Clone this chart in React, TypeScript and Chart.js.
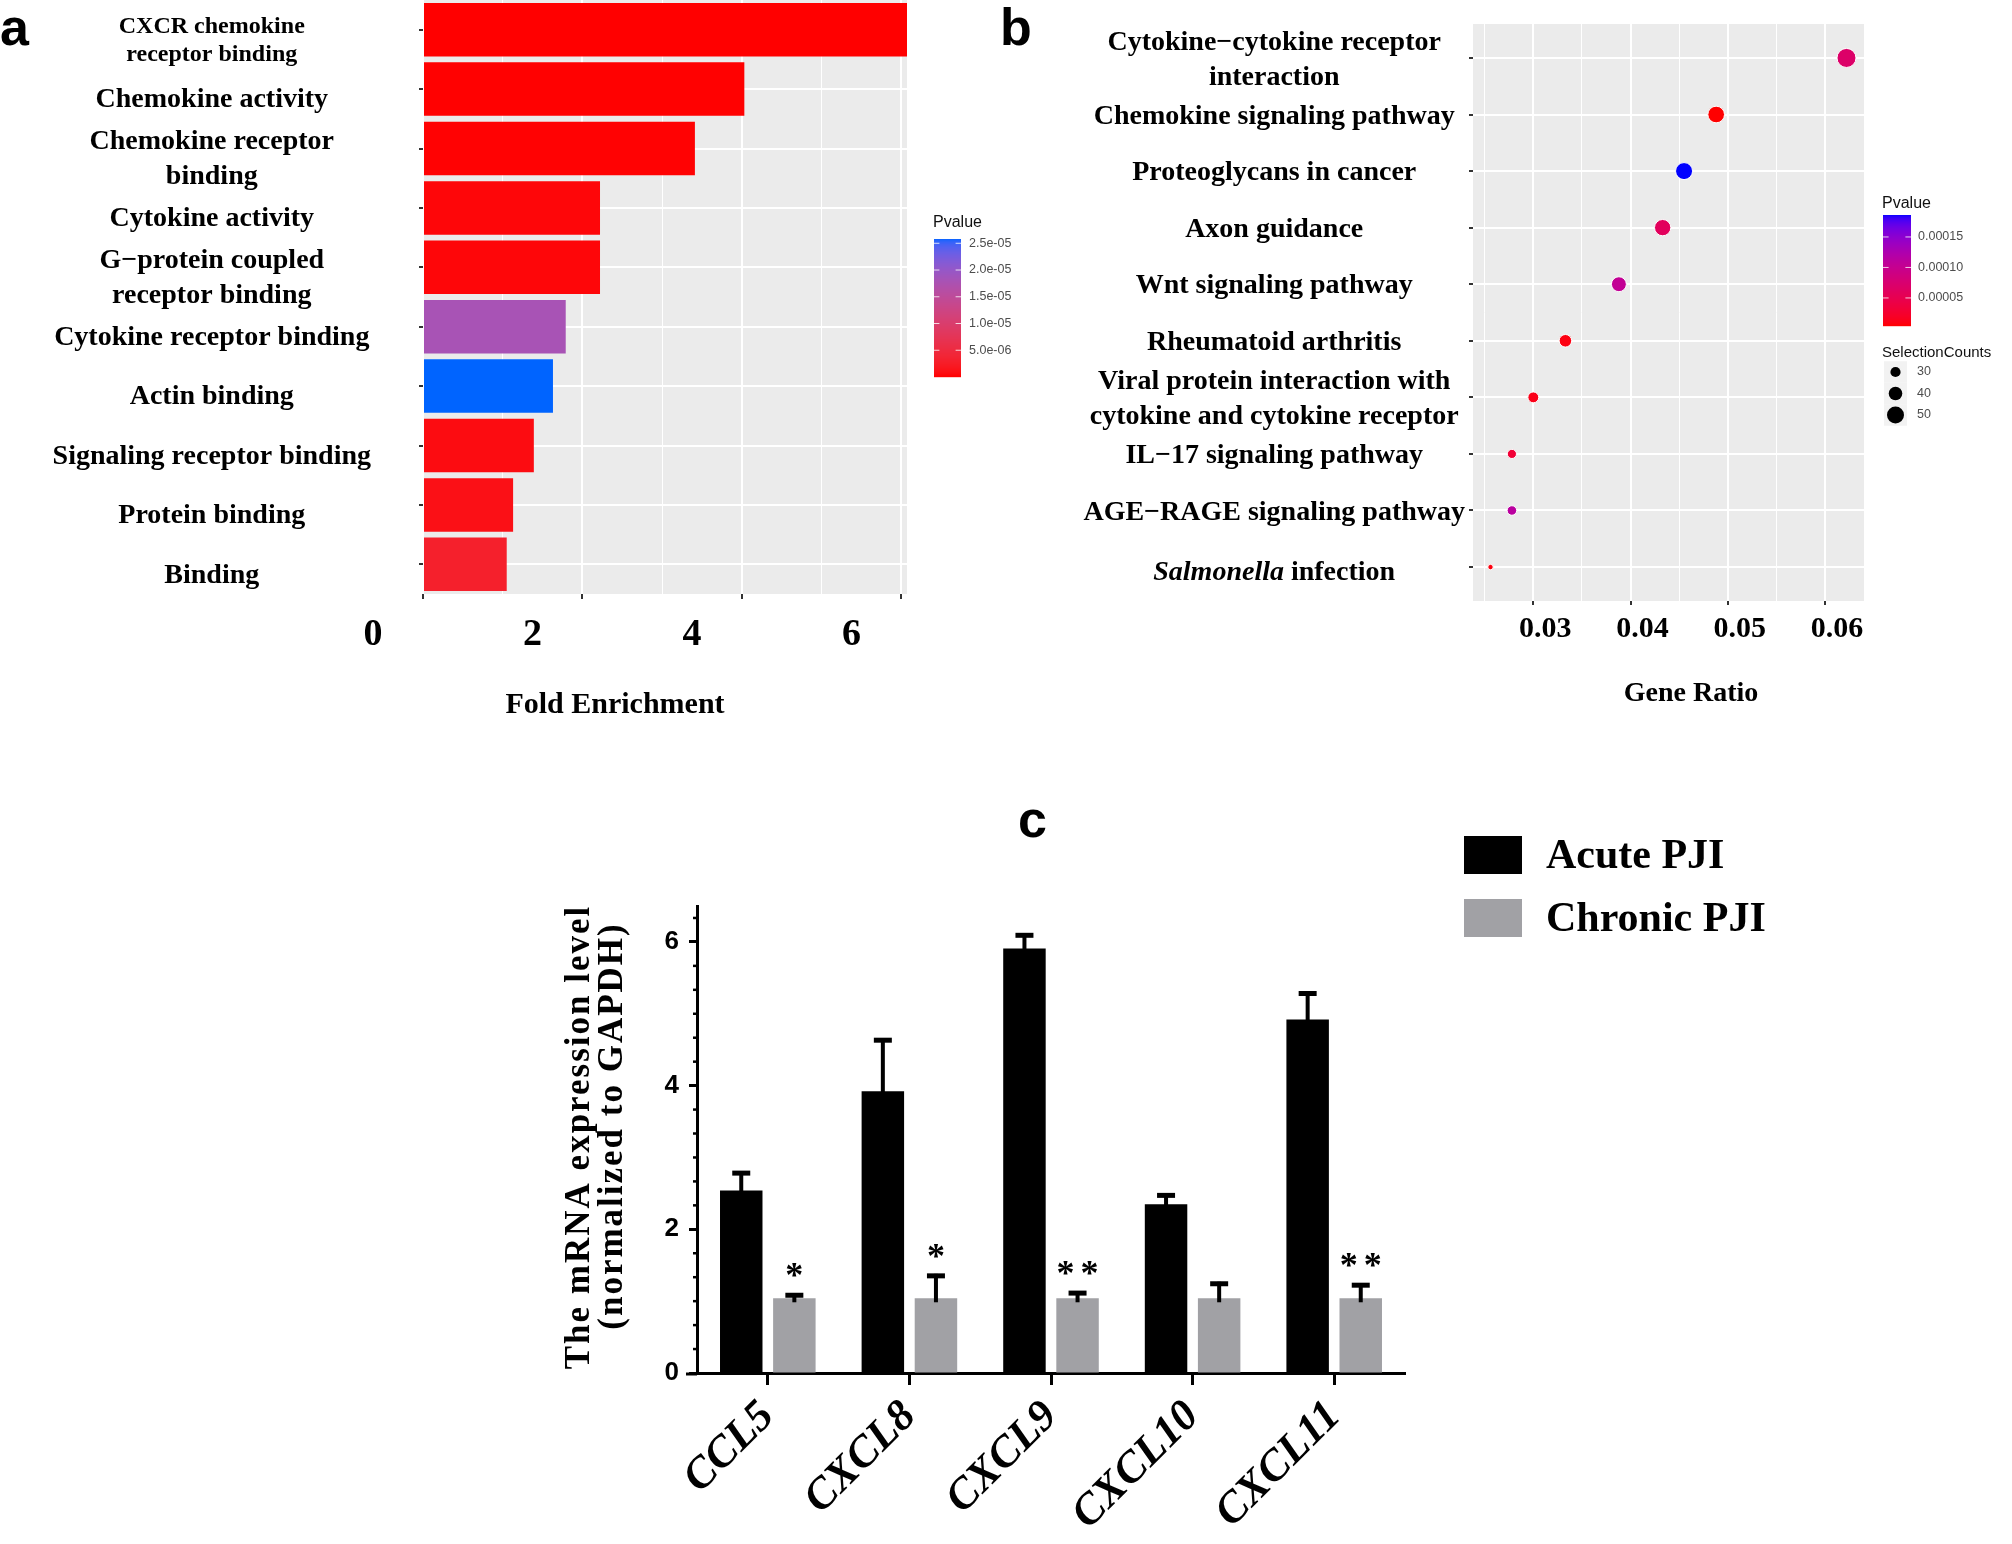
import React, { useEffect, useRef } from 'react';
import { Chart, registerables } from 'chart.js';

Chart.register(...registerables);

const SERIF = "'Liberation Serif', 'Times New Roman', serif";
const SANS = "'Liberation Sans', Arial, sans-serif";

// ---------------- Panel a : GO fold enrichment ----------------
const goTerms: (string | string[])[] = [
  ['CXCR chemokine', 'receptor binding'],
  'Chemokine activity',
  ['Chemokine receptor', 'binding'],
  'Cytokine activity',
  ['G\u2212protein coupled', 'receptor binding'],
  'Cytokine receptor binding',
  'Actin binding',
  'Signaling receptor binding',
  'Protein binding',
  'Binding',
];
const goFold = [6.07, 4.03, 3.41, 2.22, 2.22, 1.79, 1.63, 1.39, 1.13, 1.05];
const goPvalue = [1e-9, 5e-8, 1.5e-7, 4e-7, 4e-7, 1.8e-5, 2.58e-5, 8e-7, 1.1e-6, 3e-6];
const foldMax = 6.07;
const foldGrid = [0, 1, 2, 3, 4, 5, 6];
const foldTicks = [0, 2, 4, 6];
const goPvalueTicks = [2.5e-5, 2e-5, 1.5e-5, 1e-5, 5e-6];

// ---------------- Panel b : KEGG dot plot ----------------
const keggTerms: (string | string[])[] = [
  ['Cytokine\u2212cytokine receptor', 'interaction'],
  'Chemokine signaling pathway',
  'Proteoglycans in cancer',
  'Axon guidance',
  'Wnt signaling pathway',
  'Rheumatoid arthritis',
  ['Viral protein interaction with', 'cytokine and cytokine receptor'],
  'IL\u221217 signaling pathway',
  'AGE\u2212RAGE signaling pathway',
  'Salmonella infection',
];
const italicTerms = ['Salmonella'];
const keggGeneRatio = [0.0622, 0.0488, 0.0455, 0.0433, 0.0388, 0.0333, 0.03, 0.0278, 0.0278, 0.0256];
const keggCounts = [56, 49, 50, 48, 44, 37, 32, 27, 28, 16];
const keggPvalue = [6.9e-5, 4e-6, 1.86e-4, 5.9e-5, 1.04e-4, 9e-6, 1.2e-5, 3.1e-5, 1.13e-4, 8e-6];
const ratioMin = 0.0238;
const ratioMax = 0.064;
const ratioGrid = [0.025, 0.03, 0.035, 0.04, 0.045, 0.05, 0.055, 0.06];
const ratioTicks = [0.03, 0.04, 0.05, 0.06];
const keggPvalueTicks = [0.00015, 0.0001, 0.00005];
const sizeLegendCounts = [30, 40, 50];

// ---------------- Panel c : qPCR ----------------
const genes = ['CCL5', 'CXCL8', 'CXCL9', 'CXCL10', 'CXCL11'];
const acutePJI = [2.54, 3.92, 5.91, 2.35, 4.92];
const acuteSD = [0.27, 0.74, 0.21, 0.15, 0.39];
const chronicPJI = [1.04, 1.04, 1.04, 1.04, 1.04];
const chronicSD = [0.07, 0.34, 0.1, 0.23, 0.21];
const significance = ['*', '*', '**', '', '**'];
const exprMax = 6.5;
const exprTicks = [0, 2, 4, 6];
const exprMinorStep = 1 / 3;

// ---------------- colour helpers (Lab interpolation like ggplot) ----------------
function hexToRgb(hex: string): number[] {
  const n = parseInt(hex.slice(1), 16);
  return [(n >> 16) & 255, (n >> 8) & 255, n & 255];
}
function rgbToLab(rgb: number[]): number[] {
  const [r, g, b] = rgb.map((c) => {
    const v = c / 255;
    return v <= 0.04045 ? v / 12.92 : Math.pow((v + 0.055) / 1.055, 2.4);
  });
  const X = (0.4124 * r + 0.3576 * g + 0.1805 * b) / 0.95047;
  const Y = 0.2126 * r + 0.7152 * g + 0.0722 * b;
  const Z = (0.0193 * r + 0.1192 * g + 0.9505 * b) / 1.08883;
  const f = (t: number) => (t > 0.008856 ? Math.cbrt(t) : 7.787 * t + 16 / 116);
  const fx = f(X), fy = f(Y), fz = f(Z);
  return [116 * fy - 16, 500 * (fx - fy), 200 * (fy - fz)];
}
function labToRgb(lab: number[]): number[] {
  const [L, a, b] = lab;
  const fy = (L + 16) / 116, fx = fy + a / 500, fz = fy - b / 200;
  const inv = (t: number) => (t ** 3 > 0.008856 ? t ** 3 : (t - 16 / 116) / 7.787);
  const X = 0.95047 * inv(fx), Y = inv(fy), Z = 1.08883 * inv(fz);
  const lin = [
    3.2406 * X - 1.5372 * Y - 0.4986 * Z,
    -0.9689 * X + 1.8758 * Y + 0.0415 * Z,
    0.0557 * X - 0.204 * Y + 1.057 * Z,
  ];
  return lin.map((c) => {
    const v = c <= 0.0031308 ? 12.92 * c : 1.055 * Math.pow(c, 1 / 2.4) - 0.055;
    return Math.round(Math.min(1, Math.max(0, v)) * 255);
  });
}
function makeGradient(low: string, high: string, min: number, max: number) {
  const l1 = rgbToLab(hexToRgb(low));
  const l2 = rgbToLab(hexToRgb(high));
  return (p: number) => {
    const t = Math.min(1, Math.max(0, (p - min) / (max - min)));
    const [r, g, b] = labToRgb(l1.map((v, i) => v + (l2[i] - v) * t));
    return `rgb(${r},${g},${b})`;
  };
}

// ---------------- shared helpers / plugins ----------------
const fixBox = (w: number | null, h: number | null) => (s: any) => {
  if (w !== null) s.width = w;
  if (h !== null) s.height = h;
  s.paddingTop = 0;
  s.paddingBottom = 0;
  s.paddingLeft = 0;
  s.paddingRight = 0;
};

const panelBackground = {
  id: 'panelBackground',
  beforeDraw(chart: any) {
    const { ctx, chartArea: a } = chart;
    ctx.save();
    ctx.fillStyle = '#EBEBEB';
    ctx.fillRect(a.left, a.top, a.right - a.left, a.bottom - a.top);
    ctx.restore();
  },
};

function colorbar(opts: any) {
  return {
    id: 'colorbar' + opts.key,
    afterDraw(chart: any) {
      const { ctx } = chart;
      const { x, y, w, h, grad, min, max, ticks, fmt, labelX, title, titleY } = opts;
      ctx.save();
      for (let i = 0; i < h; i++) {
        const p = max - ((i + 0.5) / h) * (max - min);
        ctx.fillStyle = grad(p);
        ctx.fillRect(x, y + i, w, 1.2);
      }
      ctx.font = `16px ${SANS}`;
      ctx.fillStyle = '#111';
      ctx.textAlign = 'left';
      ctx.textBaseline = 'middle';
      ctx.fillText(title, x - 1, titleY);
      ctx.font = `12.5px ${SANS}`;
      ctx.fillStyle = '#4D4D4D';
      ticks.forEach((v: number) => {
        const ty = y + h - ((v - min) / (max - min)) * h;
        ctx.strokeStyle = 'rgba(255,255,255,0.8)';
        ctx.lineWidth = 1;
        ctx.beginPath();
        ctx.moveTo(x, ty);
        ctx.lineTo(x + w * 0.2, ty);
        ctx.moveTo(x + w * 0.8, ty);
        ctx.lineTo(x + w, ty);
        ctx.stroke();
        ctx.fillText(fmt(v), labelX, ty);
      });
      ctx.restore();
    },
  };
}

function textPlugin(id: string, items: any[]) {
  return {
    id,
    afterDraw(chart: any) {
      const { ctx } = chart;
      ctx.save();
      items.forEach((it) => {
        ctx.font = it.font;
        ctx.fillStyle = '#000';
        ctx.textAlign = it.align || 'center';
        ctx.textBaseline = it.baseline || 'middle';
        ctx.fillText(it.text, it.x, it.y);
      });
      ctx.restore();
    },
  };
}

// ---------------- Panel a ----------------
function buildA(canvas: HTMLCanvasElement) {
  const gradA = makeGradient('#FF0000', '#0064FF', Math.min(...goPvalue), Math.max(...goPvalue));
  return new Chart(canvas, {
    type: 'bar',
    data: {
      labels: goTerms as any,
      datasets: [
        {
          label: 'Fold Enrichment',
          data: goFold,
          backgroundColor: goPvalue.map(gradA),
          borderWidth: 0,
          barPercentage: 0.9,
          categoryPercentage: 1.0,
        },
      ],
    },
    options: {
      indexAxis: 'y',
      responsive: false,
      animation: false,
      devicePixelRatio: 1,
      events: [],
      layout: { padding: { left: 0, top: 0, right: 123, bottom: 0 } },
      plugins: { legend: { display: false }, tooltip: { enabled: false } },
      scales: {
        x: {
          type: 'linear',
          min: 0,
          max: foldMax,
          afterBuildTicks: (s: any) => {
            s.ticks = foldGrid.map((v) => ({ value: v }));
          },
          afterFit: fixBox(null, 146),
          grid: {
            color: '#FFFFFF',
            lineWidth: (c: any) => (foldTicks.includes(c.tick?.value) ? 2 : 1),
            tickColor: (c: any) => (foldTicks.includes(c.tick?.value) ? '#333' : 'rgba(0,0,0,0)'),
            tickLength: 5,
          },
          border: { display: false },
          ticks: {
            callback: (v: any) => (foldTicks.includes(v) ? String(v) : ''),
            font: { family: SERIF, size: 38, weight: 'bold' },
            color: '#000',
            labelOffset: -50,
            padding: 13,
            maxRotation: 0,
            autoSkip: false,
          },
        },
        y: {
          type: 'category',
          offset: true,
          afterFit: fixBox(423, null),
          grid: { color: '#FFFFFF', lineWidth: 2, offset: false, tickColor: '#333', tickLength: 4 },
          border: { display: false },
          ticks: {
            autoSkip: false,
            color: '#000',
            crossAlign: 'center',
            padding: 48,
            labelOffset: 11,
            font: (c: any) =>
              c.index === 0
                ? { family: SERIF, size: 24, weight: 'bold', lineHeight: 1.2 }
                : { family: SERIF, size: 28, weight: 'bold', lineHeight: 1.25 },
          },
        },
      },
    } as any,
    plugins: [
      panelBackground,
      colorbar({
        key: 'A',
        x: 934,
        y: 239,
        w: 27,
        h: 138,
        grad: gradA,
        min: Math.min(...goPvalue),
        max: Math.max(...goPvalue),
        ticks: goPvalueTicks,
        fmt: (v: number) => v.toExponential(1).replace('e-', 'e-0'),
        labelX: 969,
        title: 'Pvalue',
        titleY: 223,
      }),
      textPlugin('textA', [
        { text: 'Fold Enrichment', x: 615, y: 705, font: `bold 30px ${SERIF}` },
        { text: 'a', x: 0, y: 45, font: `bold 52px ${SANS}`, align: 'left', baseline: 'alphabetic' },
      ]),
    ],
  });
}

// ---------------- Panel b ----------------
const bubbleRadius = (n: number) => 0.17 * n;
const isItalicLabel = (t: any) => typeof t === 'string' && italicTerms.some((w) => t.startsWith(w));

function buildB(canvas: HTMLCanvasElement) {
  const pMin = Math.min(...keggPvalue);
  const pMax = Math.max(...keggPvalue);
  const gradB = makeGradient('#FF0000', '#0000FF', pMin, pMax);
  const labelFont = { family: SERIF, size: 28, weight: 'bold', lineHeight: 1.25 };
  const italicLabel = {
    id: 'italicLabel',
    afterDraw(chart: any) {
      const { ctx } = chart;
      const ys = chart.scales.y;
      ctx.save();
      ctx.font = `bold 28px ${SERIF}`;
      let widest = 0;
      keggTerms.forEach((t) => {
        (Array.isArray(t) ? t : [t]).forEach((line) => {
          widest = Math.max(widest, ctx.measureText(line).width);
        });
      });
      const cx = ys.right - 4 - 4 - widest / 2;
      keggTerms.forEach((t, i) => {
        if (!isItalicLabel(t)) return;
        const s = t as string;
        const word = italicTerms.find((w) => s.startsWith(w)) as string;
        const rest = s.slice(word.length);
        const fItal = `italic bold 28px ${SERIF}`;
        const fNorm = `bold 28px ${SERIF}`;
        ctx.font = fItal;
        const w1 = ctx.measureText(word).width;
        ctx.font = fNorm;
        const w2 = ctx.measureText(rest).width;
        const y = ys.getPixelForValue(i + 1) + 6;
        let x = cx - (w1 + w2) / 2;
        ctx.fillStyle = '#000';
        ctx.textAlign = 'left';
        ctx.textBaseline = 'middle';
        ctx.font = fItal;
        ctx.fillText(word, x, y);
        x += w1;
        ctx.font = fNorm;
        ctx.fillText(rest, x, y);
      });
      ctx.restore();
    },
  };
  const sizeLegend = {
    id: 'sizeLegend',
    afterDraw(chart: any) {
      const { ctx } = chart;
      ctx.save();
      ctx.font = `15px ${SANS}`;
      ctx.fillStyle = '#111';
      ctx.textAlign = 'left';
      ctx.textBaseline = 'middle';
      ctx.fillText('SelectionCounts', 882, 353);
      sizeLegendCounts.forEach((n, i) => {
        const yc = 372 + i * 21.5;
        ctx.fillStyle = '#F2F2F2';
        ctx.fillRect(884, yc - 10.75, 23, 21.5);
        ctx.fillStyle = '#000';
        ctx.beginPath();
        ctx.arc(895.5, yc, bubbleRadius(n), 0, Math.PI * 2);
        ctx.fill();
        ctx.font = `12.5px ${SANS}`;
        ctx.fillStyle = '#4D4D4D';
        ctx.fillText(String(n), 917, yc);
      });
      ctx.restore();
    },
  };
  return new Chart(canvas, {
    type: 'bubble',
    data: {
      datasets: [
        {
          label: 'KEGG',
          data: keggGeneRatio.map((x, i) => ({ x, y: i + 1, r: bubbleRadius(keggCounts[i]) })),
          backgroundColor: keggPvalue.map(gradB),
          borderColor: '#FFFFFF',
          borderWidth: 1,
        },
      ],
    },
    options: {
      responsive: false,
      animation: false,
      devicePixelRatio: 1,
      events: [],
      layout: { padding: { left: 0, top: 24, right: 148, bottom: 0 } },
      plugins: { legend: { display: false }, tooltip: { enabled: false } },
      scales: {
        x: {
          type: 'linear',
          min: ratioMin,
          max: ratioMax,
          afterBuildTicks: (s: any) => {
            s.ticks = ratioGrid.map((v) => ({ value: v }));
          },
          afterFit: fixBox(null, 139),
          grid: {
            color: '#FFFFFF',
            lineWidth: (c: any) => (ratioTicks.includes(c.tick?.value) ? 2 : 1),
            tickColor: (c: any) => (ratioTicks.includes(c.tick?.value) ? '#333' : 'rgba(0,0,0,0)'),
            tickLength: 4,
          },
          border: { display: false },
          ticks: {
            callback: (v: any) => (ratioTicks.includes(v) ? v.toFixed(2) : ''),
            font: { family: SERIF, size: 30, weight: 'bold' },
            color: '#000',
            labelOffset: 12,
            padding: 6,
            maxRotation: 0,
            autoSkip: false,
          },
        },
        y: {
          type: 'linear',
          reverse: true,
          min: 0.4,
          max: keggTerms.length + 0.6,
          afterBuildTicks: (s: any) => {
            s.ticks = keggTerms.map((_, i) => ({ value: i + 1 }));
          },
          afterFit: fixBox(473, null),
          grid: { color: '#FFFFFF', lineWidth: 2, tickColor: '#333', tickLength: 4 },
          border: { display: false },
          ticks: {
            autoSkip: false,
            color: '#000',
            crossAlign: 'center',
            padding: 4,
            labelOffset: 2,
            font: labelFont,
            callback: (v: any) => {
              const t = keggTerms[Math.round(v) - 1];
              return isItalicLabel(t) ? '' : (t as any);
            },
          },
        },
      },
    } as any,
    plugins: [
      panelBackground,
      colorbar({
        key: 'B',
        x: 883,
        y: 215,
        w: 28,
        h: 111,
        grad: gradB,
        min: pMin,
        max: pMax,
        ticks: keggPvalueTicks,
        fmt: (v: number) => v.toFixed(5),
        labelX: 918,
        title: 'Pvalue',
        titleY: 204,
      }),
      sizeLegend,
      italicLabel,
      textPlugin('textB', [
        { text: 'Gene Ratio', x: 691, y: 694, font: `bold 28px ${SERIF}` },
        { text: 'b', x: 0, y: 45, font: `bold 52px ${SANS}`, align: 'left', baseline: 'alphabetic' },
      ]),
    ],
  });
}

// ---------------- Panel c ----------------
function buildC(canvas: HTMLCanvasElement) {
  const errorsByDataset = [acuteSD, chronicSD];
  const errorBars = {
    id: 'errorBars',
    afterDatasetsDraw(chart: any) {
      const { ctx } = chart;
      const ys = chart.scales.y;
      ctx.save();
      ctx.strokeStyle = '#000';
      chart.data.datasets.forEach((ds: any, di: number) => {
        const meta = chart.getDatasetMeta(di);
        meta.data.forEach((bar: any, i: number) => {
          const top = ys.getPixelForValue(ds.data[i] + errorsByDataset[di][i]);
          ctx.lineWidth = 4;
          ctx.beginPath();
          ctx.moveTo(bar.x, bar.y + 4);
          ctx.lineTo(bar.x, top);
          ctx.stroke();
          ctx.lineWidth = 5;
          ctx.beginPath();
          ctx.moveTo(bar.x - 9, top + 2);
          ctx.lineTo(bar.x + 9, top + 2);
          ctx.stroke();
        });
      });
      // significance stars above the chronic bars
      const meta = chart.getDatasetMeta(1);
      ctx.fillStyle = '#000';
      ctx.font = `bold 36px ${SERIF}`;
      ctx.textAlign = 'center';
      ctx.textBaseline = 'alphabetic';
      meta.data.forEach((bar: any, i: number) => {
        const stars = significance[i];
        if (!stars) return;
        const top = ys.getPixelForValue(chronicPJI[i] + chronicSD[i]);
        const cy = top - 24;
        const n = stars.length;
        for (let k = 0; k < n; k++) {
          const x = bar.x + (k - (n - 1) / 2) * 24;
          ctx.fillText('*', x, cy + 18);
        }
      });
      ctx.restore();
    },
  };
  const axisExtras = {
    id: 'axisExtras',
    afterDraw(chart: any) {
      const { ctx, chartArea } = chart;
      const ys = chart.scales.y;
      ctx.save();
      ctx.strokeStyle = '#000';
      // minor ticks on the y axis
      ctx.lineWidth = 2.5;
      for (let k = 1; k * exprMinorStep <= exprMax; k++) {
        const v = k * exprMinorStep;
        if (exprTicks.some((t) => Math.abs(t - v) < 1e-6)) continue;
        const y = ys.getPixelForValue(v);
        ctx.beginPath();
        ctx.moveTo(chartArea.left - 4, y);
        ctx.lineTo(chartArea.left, y);
        ctx.stroke();
      }
      // the x axis line runs a little past the y axis
      ctx.lineWidth = 3;
      ctx.beginPath();
      ctx.moveTo(chartArea.left - 11, chartArea.bottom + 1);
      ctx.lineTo(chartArea.left, chartArea.bottom + 1);
      ctx.stroke();
      ctx.restore();
    },
  };
  const legendC = {
    id: 'legendC',
    afterDraw(chart: any) {
      const { ctx } = chart;
      ctx.save();
      chart.data.datasets.forEach((ds: any, i: number) => {
        const y0 = 56 + i * 63;
        ctx.fillStyle = ds.backgroundColor;
        ctx.fillRect(944, y0, 58, 38);
        ctx.fillStyle = '#000';
        ctx.font = `bold 42px ${SERIF}`;
        ctx.textAlign = 'left';
        ctx.textBaseline = 'middle';
        ctx.fillText(ds.label, 1026, y0 + 21);
      });
      ctx.restore();
    },
  };
  const yTitle = {
    id: 'yTitleC',
    afterDraw(chart: any) {
      const { ctx } = chart;
      const lines = [
        { text: 'The mRNA expression level', x: 60, y: 357 },
        { text: '(normalized to GAPDH)', x: 93, y: 346 },
      ];
      ctx.save();
      ctx.fillStyle = '#000';
      ctx.font = `bold 35px ${SERIF}`;
      (ctx as any).letterSpacing = '2px';
      ctx.textAlign = 'center';
      ctx.textBaseline = 'middle';
      lines.forEach((l) => {
        ctx.save();
        ctx.translate(l.x, l.y);
        ctx.rotate(-Math.PI / 2);
        ctx.fillText(l.text, 0, 0);
        ctx.restore();
      });
      ctx.restore();
    },
  };
  return new Chart(canvas, {
    type: 'bar',
    data: {
      labels: genes,
      datasets: [
        {
          label: 'Acute PJI',
          data: acutePJI,
          backgroundColor: '#000000',
          borderWidth: 0,
          barPercentage: 0.8,
          categoryPercentage: 0.75,
        },
        {
          label: 'Chronic PJI',
          data: chronicPJI,
          backgroundColor: '#A1A1A5',
          borderWidth: 0,
          barPercentage: 0.8,
          categoryPercentage: 0.75,
        },
      ],
    },
    options: {
      responsive: false,
      animation: false,
      devicePixelRatio: 1,
      events: [],
      layout: { padding: { left: 0, top: 126, right: 405, bottom: 0 } },
      plugins: { legend: { display: false }, tooltip: { enabled: false } },
      scales: {
        x: {
          type: 'category',
          offset: true,
          afterFit: fixBox(null, 171),
          grid: {
            display: true,
            drawOnChartArea: false,
            drawTicks: true,
            tickLength: 12,
            tickWidth: 3,
            tickColor: '#000',
            offset: false,
          },
          border: { display: true, color: '#000', width: 3 },
          ticks: {
            color: '#000',
            font: { family: SERIF, size: 44, weight: 'bold', style: 'italic' },
            minRotation: 45,
            maxRotation: 45,
            padding: 6,
            autoSkip: false,
          },
        },
        y: {
          type: 'linear',
          min: 0,
          max: exprMax,
          afterBuildTicks: (s: any) => {
            s.ticks = exprTicks.map((v) => ({ value: v }));
          },
          afterFit: fixBox(177, null),
          grid: { drawOnChartArea: false, drawTicks: true, tickLength: 8, tickWidth: 3, tickColor: '#000' },
          border: { display: true, color: '#000', width: 3 },
          ticks: { color: '#000', font: { family: SANS, size: 26, weight: 'bold' }, padding: 10 },
        },
      },
    } as any,
    plugins: [
      errorBars,
      axisExtras,
      legendC,
      yTitle,
      textPlugin('textC', [
        { text: 'c', x: 498, y: 57, font: `bold 52px ${SANS}`, align: 'left', baseline: 'alphabetic' },
      ]),
    ],
  });
}

export default function App() {
  const refA = useRef<HTMLCanvasElement>(null);
  const refB = useRef<HTMLCanvasElement>(null);
  const refC = useRef<HTMLCanvasElement>(null);
  useEffect(() => {
    const charts = [buildA(refA.current!), buildB(refB.current!), buildC(refC.current!)];
    return () => charts.forEach((c) => c.destroy());
  }, []);
  return (
    <div
      style={{
        position: 'absolute',
        left: 0,
        top: 0,
        width: 2012,
        height: 1544,
        background: '#FFFFFF',
        overflow: 'hidden',
      }}
    >
      <canvas ref={refA} width={1030} height={740} style={{ position: 'absolute', left: 0, top: 0 }} />
      <canvas ref={refB} width={1012} height={740} style={{ position: 'absolute', left: 1000, top: 0 }} />
      <canvas ref={refC} width={1290} height={764} style={{ position: 'absolute', left: 520, top: 780 }} />
    </div>
  );
}
